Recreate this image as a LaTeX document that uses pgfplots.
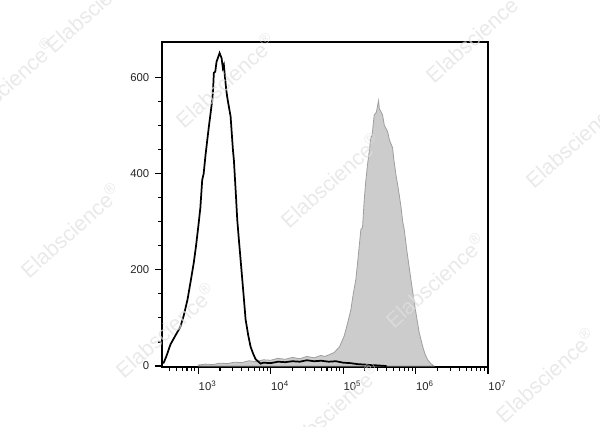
\documentclass[border=0pt]{standalone}
\usepackage{fontspec}
\setmainfont{Liberation Sans}
\usepackage{pgfplots}
\pgfplotsset{compat=1.18}
\begin{document}
\begin{tikzpicture}
\path[use as bounding box] (-121.5pt,-45pt) rectangle (328.5pt,275.25pt);
\begin{axis}[
  at={(0,0)}, anchor=south west,
  scale only axis, width=244.5pt, height=243.75pt,
  xmin=2.5, xmax=7, ymin=-2, ymax=674,
  axis line style={line width=0.9pt},
  tick align=outside, xtick pos=bottom, ytick pos=left,
  major tick length=5pt, minor tick length=3pt,
  tick style={line width=0.8pt, black},
  xtick={3,4,5,6,7},
  xticklabel={10\textsuperscript{\pgfmathprintnumber[assume math mode=true]{\tick}}},
  minor xtick={2.602,2.699,2.778,2.845,2.903,2.954,
    3.301,3.477,3.602,3.699,3.778,3.845,3.903,3.954,
    4.301,4.477,4.602,4.699,4.778,4.845,4.903,4.954,
    5.301,5.477,5.602,5.699,5.778,5.845,5.903,5.954,
    6.301,6.477,6.602,6.699,6.778,6.845,6.903,6.954},
  ytick={0,200,400,600}, minor y tick num=3,
  yticklabel={\pgfmathprintnumber[assume math mode=true]{\tick}},
  ticklabel style={font=\fontsize{8.5}{10}\selectfont, text=black!85},
  xticklabel style={xshift=7pt, yshift=-2pt},
  yticklabel style={xshift=-1pt},
]
\addplot[fill=black!20, draw=black!38, line width=0.6pt] coordinates {
(3.0,0) (3.0,2) (3.1,4) (3.2,3) (3.3,6) (3.4,5) (3.5,8) (3.6,7) (3.7,11) (3.8,9)
(3.9,13) (4.0,12) (4.1,16) (4.2,14) (4.3,18) (4.4,15) (4.5,20) (4.6,17) (4.69,22)
(4.75,20) (4.876,28) (4.95,40) (5.014,62) (5.06,88) (5.107,117) (5.14,150)
(5.176,180) (5.21,230) (5.245,284) (5.268,288) (5.29,342) (5.31,380) (5.337,419)
(5.36,445) (5.383,475) (5.40,480) (5.429,522) (5.46,528) (5.48,545) (5.490,552)
(5.50,535) (5.52,530) (5.545,522) (5.57,500) (5.614,488) (5.64,470) (5.683,454)
(5.70,430) (5.729,398) (5.75,380) (5.775,356) (5.80,330) (5.822,301) (5.844,284)
(5.88,240) (5.936,180) (5.97,145) (6.005,111) (6.05,70) (6.098,41) (6.13,25)
(6.167,13) (6.21,5) (6.254,0)
} \closedcycle;
\addplot[black, line width=1.3pt] coordinates {
(2.5,6) (2.524,7) (2.56,20) (2.617,45) (2.68,62) (2.755,82) (2.80,105) (2.852,138)
(2.90,180) (2.939,215) (2.97,250) (3.004,294) (3.03,330) (3.055,387) (3.075,400)
(3.101,439) (3.125,470) (3.147,498) (3.17,525) (3.194,554) (3.205,575) (3.216,610)
(3.235,612) (3.253,633) (3.27,640) (3.295,651) (3.31,645) (3.322,641) (3.34,620)
(3.354,626) (3.37,600) (3.387,574) (3.40,560) (3.419,543) (3.447,519) (3.465,480)
(3.479,450) (3.492,429) (3.516,367) (3.539,304) (3.56,265) (3.585,221) (3.620,159)
(3.654,97) (3.689,65) (3.723,40) (3.76,25) (3.793,14) (3.862,5) (3.9,7) (4.0,6)
(4.1,9) (4.2,8) (4.3,10) (4.4,9) (4.5,12) (4.6,10) (4.7,11) (4.8,9) (4.9,10)
(5.0,7) (5.1,6) (5.2,4) (5.3,3) (5.4,2) (5.5,1) (5.6,0)
};
\end{axis}
\begin{scope}[every node/.style={rotate=42, text=black!12, opacity=0.7, font=\fontsize{16}{18}\selectfont}]
\node at (-50.25pt,271.5pt) {Elabscience\textsuperscript{®}};
\node at (-117.75pt,211.5pt) {Elabscience\textsuperscript{®}};
\node at (47.25pt,215.25pt) {Elabscience\textsuperscript{®}};
\node at (234.75pt,249pt) {Elabscience\textsuperscript{®}};
\node at (309.75pt,170.25pt) {Elabscience\textsuperscript{®}};
\node at (-69pt,102.75pt) {Elabscience\textsuperscript{®}};
\node at (126pt,140.25pt) {Elabscience\textsuperscript{®}};
\node at (204.75pt,65.25pt) {Elabscience\textsuperscript{®}};
\node at (2.25pt,27.75pt) {Elabscience\textsuperscript{®}};
\node at (126pt,-32.25pt) {Elabscience\textsuperscript{®}};
\node at (287.25pt,-6pt) {Elabscience\textsuperscript{®}};
\end{scope}
\end{tikzpicture}
\end{document}
